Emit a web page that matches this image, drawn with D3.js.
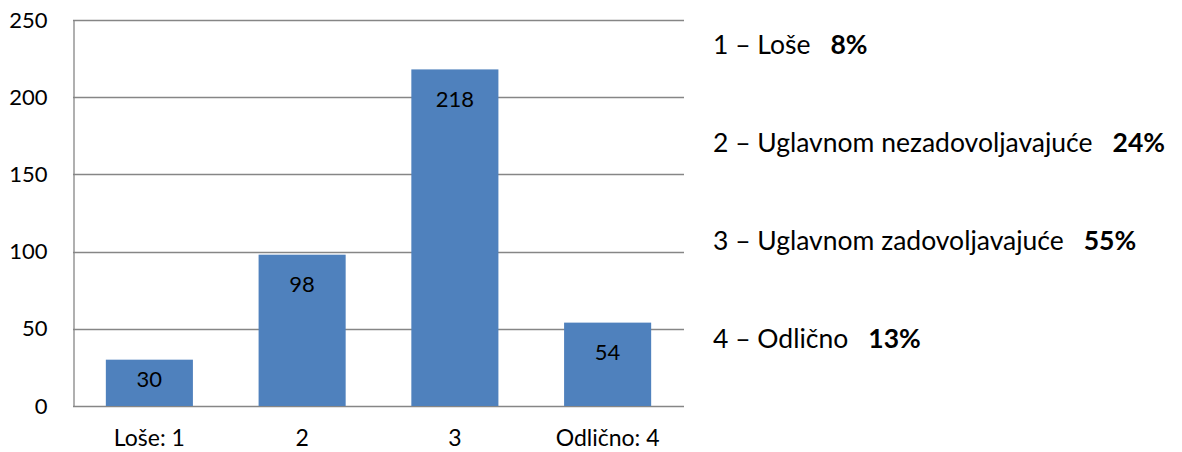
<!DOCTYPE html>
<html>
<head>
<meta charset="utf-8">
<script src="https://cdn.jsdelivr.net/npm/d3@7"></script>
<style>
  html, body { margin: 0; padding: 0; background: #fff; }
  svg { display: block; }
  text { font-family: Lato, "Open Sans", sans-serif; fill: #000; }
</style>
</head>
<body>
<svg id="chart" width="1182" height="452"></svg>
<script>
const categories = ["Loše: 1", "2", "3", "Odlično: 4"];
const values = [30, 98, 218, 54];
const yTicks = [0, 50, 100, 150, 200, 250];
const legendLabels = ["1 – Loše", "2 – Uglavnom nezadovoljavajuće", "3 – Uglavnom zadovoljavajuće", "4 – Odlično"];
const legendPercents = ["8%", "24%", "55%", "13%"];

const svg = d3.select("#chart");
const plot = { left: 73, right: 684, top: 20, bottom: 406 };

const x = d3.scaleBand()
  .domain(categories)
  .range([plot.left, plot.right])
  .paddingInner(0.43)
  .paddingOuter(0.215);

const y = d3.scaleLinear()
  .domain([0, 250])
  .range([plot.bottom, plot.top]);

const gridColor = "#868686";

// gridlines
svg.append("g")
  .selectAll("line")
  .data(yTicks)
  .join("line")
  .attr("x1", plot.left)
  .attr("x2", plot.right)
  .attr("y1", d => Math.round(y(d)) + 0.5)
  .attr("y2", d => Math.round(y(d)) + 0.5)
  .attr("stroke", gridColor)
  .attr("stroke-width", 1.3);

// y axis
const yAxis = d3.axisLeft(y).tickValues(yTicks).tickSize(0).tickPadding(26);
const gy = svg.append("g")
  .attr("transform", `translate(${plot.left + 0.5},0)`)
  .call(yAxis);
gy.select(".domain").attr("stroke", gridColor).attr("stroke-width", 1.3);
gy.selectAll("text")
  .attr("font-family", "Lato, sans-serif")
  .attr("font-size", 22)
  .attr("fill", "#000");

// bars
svg.append("g")
  .selectAll("rect")
  .data(values)
  .join("rect")
  .attr("x", (d, i) => x(categories[i]))
  .attr("width", x.bandwidth())
  .attr("y", d => y(d))
  .attr("height", d => y(0) - y(d))
  .attr("fill", "#4F81BD");

// data labels
svg.append("g")
  .selectAll("text")
  .data(values)
  .join("text")
  .attr("x", (d, i) => x(categories[i]) + x.bandwidth() / 2)
  .attr("y", d => Math.min(y(d) + 30, (y(d) + y(0)) / 2 - 4))
  .attr("dy", "0.35em")
  .attr("text-anchor", "middle")
  .attr("font-size", 22)
  .text(d => d);

// x axis labels
const xAxis = d3.axisBottom(x).tickSize(0).tickPadding(24);
const gx = svg.append("g")
  .attr("transform", `translate(0,${plot.bottom})`)
  .call(xAxis);
gx.select(".domain").remove();
gx.selectAll("text")
  .attr("font-family", "Lato, sans-serif")
  .attr("font-size", 23)
  .attr("fill", "#000");

// legend-like annotation text
const legendY = d3.scalePoint()
  .domain(d3.range(legendLabels.length))
  .range([45, 339]);

const lg = svg.append("g");
legendLabels.forEach((lab, i) => {
  const t = lg.append("text")
    .attr("x", 713)
    .attr("y", legendY(i))
    .attr("dy", "0.35em")
    .attr("font-size", 26.5);
  t.append("tspan").text(lab);
  t.append("tspan")
    .attr("dx", 20)
    .attr("font-weight", "bold")
    .text(legendPercents[i]);
});
</script>
</body>
</html>
